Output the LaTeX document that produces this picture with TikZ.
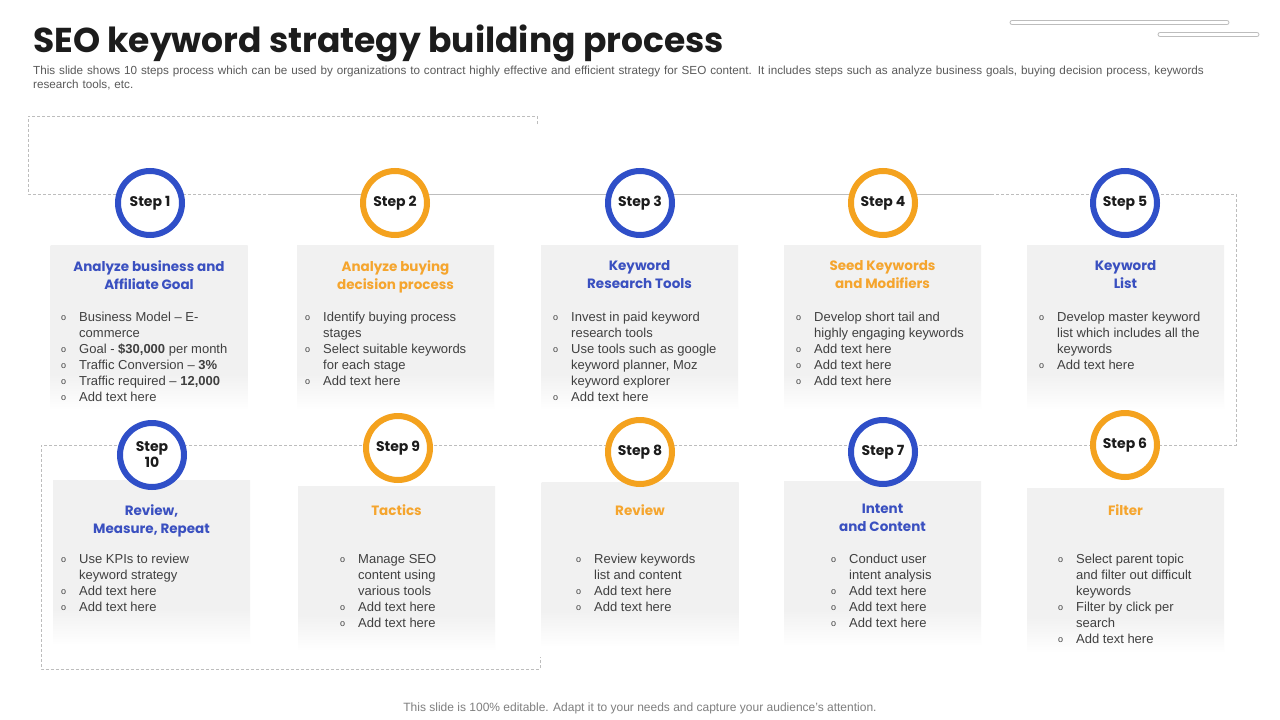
\documentclass[tikz,border=0pt]{standalone}
\usepackage{fontspec}
\setmainfont{Liberation Sans}
\newfontfamily\headfont{Poppins}
\usetikzlibrary{positioning}
\definecolor{stepblue}{HTML}{2F4FC8}
\definecolor{steporange}{HTML}{F4A21E}
\definecolor{headblue}{HTML}{3A50C0}
\definecolor{headorange}{HTML}{F5A52E}
\definecolor{panegray}{HTML}{F1F1F1}
\definecolor{linegray}{HTML}{BDBDBD}
\definecolor{textgray}{HTML}{404040}
\definecolor{subgray}{HTML}{5A5A5A}
\definecolor{footgray}{HTML}{7F7F7F}
\definecolor{titleink}{HTML}{1C1C1C}
\pgfdeclareverticalshading{cardfade}{100bp}{color(0bp)=(white); color(25bp)=(white); color(36bp)=(panegray); color(100bp)=(panegray)}
\newcommand{\bu}{\raisebox{0.8pt}{\fontsize{9}{9}\selectfont o}}
\tikzset{
  stepc/.style={circle, draw=#1, line width=6pt, fill=white, minimum size=64pt, inner sep=0pt,
    align=center, font=\headfont\bfseries\fontsize{14}{16}\selectfont, text=titleink},
  card/.style={shade, shading=cardfade, minimum width=197pt, minimum height=165pt, inner sep=0pt, anchor=north},
  chead/.style={font=\headfont\bfseries\fontsize{13.5}{18}\selectfont, text=#1, align=center, anchor=north, inner sep=0pt},
  ctext/.style={font=\fontsize{13}{16}\selectfont, text=textgray, anchor=north west, inner sep=0pt},
  link/.style={draw=linegray, line width=0.9pt},
  dlink/.style={draw=linegray, line width=0.8pt, dash pattern=on 3pt off 2pt},
  bar/.style={draw=linegray, fill=white, line width=0.8pt, rounded corners=2pt}
}

\begin{document}
\begin{tikzpicture}[x=1pt, y=-1pt]
\fill[white] (0,0) rectangle (1280,720);
\useasboundingbox (0,0) rectangle (1280,720);

% title and note
\node[anchor=base west, inner sep=0pt, font=\headfont\bfseries\fontsize{34.5}{40}\selectfont, text=titleink] (title) at (33,52) {SEO keyword strategy building process};
\node[anchor=north west, inner sep=0pt, text width=1240pt, align=left, font=\fontsize{11.7}{14}\selectfont, text=subgray] (note) at (33,66) {This slide shows 10 steps process which can be used by organizations to contract highly effective and efficient strategy for SEO content. It includes steps such as analyze business goals, buying decision process, keywords\\research tools, etc.};
\draw[bar] (1010,20.5) rectangle (1229,24.5);
\draw[bar] (1158,32.5) rectangle (1259,36.5);

% path behind the steps
\coordinate (c0) at (537,124);
\coordinate (c1) at (537,116);
\coordinate (c2) at (28,116);
\coordinate (c3) at (28,194);
\coordinate (c4) at (270,194);
\coordinate (c5) at (991,194);
\coordinate (c6) at (1236,194);
\coordinate (c7) at (1236,445);
\coordinate (c8) at (41,445);
\coordinate (c9) at (41,669);
\coordinate (c10) at (540,669);
\coordinate (c11) at (540,657);
\draw[dlink] (c0) -- (c1) -- (c2) -- (c3) -- (c4);
\draw[link] (c4) -- (c5);
\draw[dlink] (c5) -- (c6) -- (c7) -- (c8) -- (c9) -- (c10) -- (c11);

% cards
\node[card] (b1) at (149,245) {};
\node[card] (b2) at (395.5,245) {};
\node[card] (b3) at (639.5,245) {};
\node[card] (b4) at (882.5,245) {};
\node[card] (b5) at (1125.5,245) {};
\node[card] (b10) at (151.5,480) {};
\node[card] (b9) at (396.5,486) {};
\node[card] (b8) at (640,482) {};
\node[card] (b7) at (882.5,481) {};
\node[card] (b6) at (1125.5,488) {};

% step circles
\node[stepc=stepblue] (s1) at (150,203) {Step 1};
\node[stepc=steporange] (s2) at (395,203) {Step 2};
\node[stepc=stepblue] (s3) at (640,203) {Step 3};
\node[stepc=steporange] (s4) at (883,203) {Step 4};
\node[stepc=stepblue] (s5) at (1125,203) {Step 5};
\node[stepc=stepblue] (s10) at (152,455) {Step\\10};
\node[stepc=steporange] (s9) at (398,448) {Step 9};
\node[stepc=steporange] (s8) at (640,452) {Step 8};
\node[stepc=stepblue] (s7) at (883,452) {Step 7};
\node[stepc=steporange] (s6) at (1125,445) {Step 6};

% headings
\node[chead=headblue] (h1) at (149,260) {Analyze business and\\Affiliate Goal};
\node[chead=headorange] (h2) at (395.5,260) {Analyze buying\\decision process};
\node[chead=headblue] (h3) at (639.5,260) {Keyword\\Research Tools};
\node[chead=headorange] (h4) at (882.5,260) {Seed Keywords\\and Modifiers};
\node[chead=headblue] (h5) at (1125.5,260) {Keyword\\List};
\node[chead=headblue] (h10) at (151.5,504) {Review,\\Measure, Repeat};
\node[chead=headorange] (h9) at (396.5,504) {Tactics};
\node[chead=headorange] (h8) at (640,504) {Review};
\node[chead=headblue] (h7) at (882.5,504) {Intent\\and Content};
\node[chead=headorange] (h6) at (1125.5,504) {Filter};

% bullet texts
\node[ctext] (t1) at (61,310) {\begin{tabular}{@{}p{18pt}@{}l@{}}
\bu & Business Model -- E-\\
 & commerce\\
\bu & Goal - \textbf{\$30,000} per month\\
\bu & Traffic Conversion -- \textbf{3\%}\\
\bu & Traffic required -- \textbf{12,000}\\
\bu & Add text here
\end{tabular}};
\node[ctext] (t2) at (305,310) {\begin{tabular}{@{}p{18pt}@{}l@{}}
\bu & Identify buying process\\
 & stages\\
\bu & Select suitable keywords\\
 & for each stage\\
\bu & Add text here
\end{tabular}};
\node[ctext] (t3) at (553,310) {\begin{tabular}{@{}p{18pt}@{}l@{}}
\bu & Invest in paid keyword\\
 & research tools\\
\bu & Use tools such as google\\
 & keyword planner, Moz\\
 & keyword explorer\\
\bu & Add text here
\end{tabular}};
\node[ctext] (t4) at (796,310) {\begin{tabular}{@{}p{18pt}@{}l@{}}
\bu & Develop short tail and\\
 & highly engaging keywords\\
\bu & Add text here\\
\bu & Add text here\\
\bu & Add text here
\end{tabular}};
\node[ctext] (t5) at (1039,310) {\begin{tabular}{@{}p{18pt}@{}l@{}}
\bu & Develop master keyword\\
 & list which includes all the\\
 & keywords\\
\bu & Add text here
\end{tabular}};
\node[ctext] (t10) at (61,552) {\begin{tabular}{@{}p{18pt}@{}l@{}}
\bu & Use KPIs to review\\
 & keyword strategy\\
\bu & Add text here\\
\bu & Add text here
\end{tabular}};
\node[ctext] (t9) at (340,552) {\begin{tabular}{@{}p{18pt}@{}l@{}}
\bu & Manage SEO\\
 & content using\\
 & various tools\\
\bu & Add text here\\
\bu & Add text here
\end{tabular}};
\node[ctext] (t8) at (576,552) {\begin{tabular}{@{}p{18pt}@{}l@{}}
\bu & Review keywords\\
 & list and content\\
\bu & Add text here\\
\bu & Add text here
\end{tabular}};
\node[ctext] (t7) at (831,552) {\begin{tabular}{@{}p{18pt}@{}l@{}}
\bu & Conduct user\\
 & intent analysis\\
\bu & Add text here\\
\bu & Add text here\\
\bu & Add text here
\end{tabular}};
\node[ctext] (t6) at (1058,552) {\begin{tabular}{@{}p{18pt}@{}l@{}}
\bu & Select parent topic\\
 & and filter out difficult\\
 & keywords\\
\bu & Filter by click per\\
 & search\\
\bu & Add text here
\end{tabular}};

% footer
\node[font=\fontsize{12}{14}\selectfont, text=footgray, inner sep=0pt] (foot) at (640,708) {This slide is 100\% editable. Adapt it to your needs and capture your audience's attention.};
\end{tikzpicture}
\end{document}
